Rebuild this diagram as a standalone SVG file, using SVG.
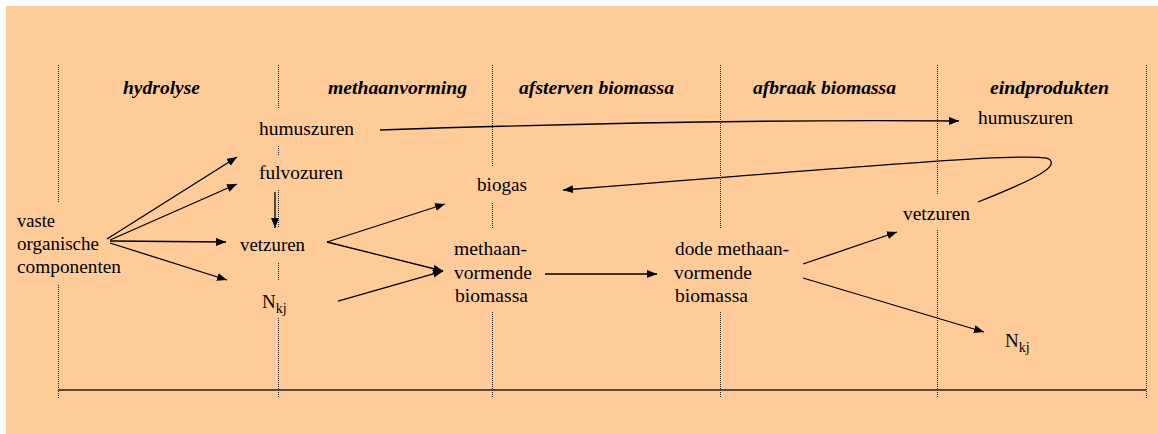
<svg xmlns="http://www.w3.org/2000/svg" width="1158" height="434" viewBox="0 0 1158 434">
  <style>
    .phase { font-size: 19px; font-weight: bold; font-style: italic; fill: #000; }
    .lbl { font-size: 19px; fill: #000; }
    .sub { font-size: 14px; }
    .divider { stroke: #222; stroke-width: 1; stroke-dasharray: 1 1; fill: none; }
    .flow { stroke: #000; stroke-width: 1.3; fill: none; marker-end: url(#head); }
  </style>
  <defs>
    <marker id="head" markerUnits="userSpaceOnUse" markerWidth="11" markerHeight="9" refX="10" refY="4" orient="auto">
      <path d="M0,0 L10,4 L0,8 z" fill="#000"/>
    </marker>
  </defs>

  <!-- page background -->
  <rect x="0" y="0" width="1158" height="434" fill="#fff"/>
  <rect x="6" y="6" width="1152" height="428" fill="#ffcc99"/>

  <!-- phase dividers and baseline -->
  <g id="grid">
    <path class="divider" d="M58.5,65 V202 M58.5,285 V398"/>
    <path class="divider" d="M278.5,65 V108 M278.5,146 V155 M278.5,190 V227 M278.5,263 V280 M278.5,318 V398"/>
    <path class="divider" d="M492.5,65 V167 M492.5,203 V228 M492.5,312 V398"/>
    <path class="divider" d="M720.5,65 V228 M720.5,312 V398"/>
    <path class="divider" d="M937.5,65 V195 M937.5,230 V398"/>
    <path class="divider" d="M1146.5,65 V398"/>
    <line x1="58" y1="390" x2="1146" y2="390" stroke="#5a4838" stroke-width="2"/>
  </g>

  <g font-family="Liberation Serif, DejaVu Serif, Times New Roman, serif">
  <!-- phase headings -->
  <g id="headings">
    <text class="phase" x="123" y="94" textLength="77" lengthAdjust="spacingAndGlyphs">hydrolyse</text>
    <text class="phase" x="328" y="94" textLength="139" lengthAdjust="spacingAndGlyphs">methaanvorming</text>
    <text class="phase" x="519" y="94" textLength="155" lengthAdjust="spacingAndGlyphs">afsterven biomassa</text>
    <text class="phase" x="753" y="94" textLength="143" lengthAdjust="spacingAndGlyphs">afbraak biomassa</text>
    <text class="phase" x="990" y="94" textLength="119" lengthAdjust="spacingAndGlyphs">eindprodukten</text>
  </g>

  <!-- nodes -->
  <g id="vaste-organische-componenten">
    <text class="lbl" x="17" y="227" textLength="38" lengthAdjust="spacingAndGlyphs">vaste</text>
    <text class="lbl" x="17" y="250" textLength="82" lengthAdjust="spacingAndGlyphs">organische</text>
    <text class="lbl" x="17" y="273" textLength="104" lengthAdjust="spacingAndGlyphs">componenten</text>
  </g>
  <g id="humuszuren-1">
    <text class="lbl" x="259" y="135" textLength="95" lengthAdjust="spacingAndGlyphs">humuszuren</text>
  </g>
  <g id="fulvozuren">
    <text class="lbl" x="259" y="179" textLength="84" lengthAdjust="spacingAndGlyphs">fulvozuren</text>
  </g>
  <g id="vetzuren-1">
    <text class="lbl" x="240" y="251" textLength="65" lengthAdjust="spacingAndGlyphs">vetzuren</text>
  </g>
  <g id="nkj-1">
    <text class="lbl" x="262" y="308">N<tspan class="sub" dy="5">kj</tspan></text>
  </g>
  <g id="biogas">
    <text class="lbl" x="477" y="191" textLength="50" lengthAdjust="spacingAndGlyphs">biogas</text>
  </g>
  <g id="methaanvormende-biomassa">
    <text class="lbl" x="454" y="255" textLength="73" lengthAdjust="spacingAndGlyphs">methaan-</text>
    <text class="lbl" x="454" y="279" textLength="78" lengthAdjust="spacingAndGlyphs">vormende</text>
    <text class="lbl" x="455" y="302" textLength="73" lengthAdjust="spacingAndGlyphs">biomassa</text>
  </g>
  <g id="dode-methaanvormende-biomassa">
    <text class="lbl" x="675" y="255" textLength="114" lengthAdjust="spacingAndGlyphs">dode methaan-</text>
    <text class="lbl" x="674" y="279" textLength="78" lengthAdjust="spacingAndGlyphs">vormende</text>
    <text class="lbl" x="675" y="302" textLength="73" lengthAdjust="spacingAndGlyphs">biomassa</text>
  </g>
  <g id="humuszuren-2">
    <text class="lbl" x="978" y="124" textLength="95" lengthAdjust="spacingAndGlyphs">humuszuren</text>
  </g>
  <g id="vetzuren-2">
    <text class="lbl" x="903" y="220" textLength="67" lengthAdjust="spacingAndGlyphs">vetzuren</text>
  </g>
  <g id="nkj-2">
    <text class="lbl" x="1005" y="347">N<tspan class="sub" dy="5">kj</tspan></text>
  </g>
  </g>

  <!-- connectors -->
  <g id="connectors">
    <line class="flow" x1="107" y1="239" x2="237" y2="157"/>
    <line class="flow" x1="110" y1="240" x2="237" y2="184"/>
    <line class="flow" x1="110" y1="241" x2="226" y2="242"/>
    <line class="flow" x1="110" y1="243" x2="227" y2="280"/>
    <line class="flow" x1="275" y1="192" x2="275" y2="228"/>
    <line class="flow" x1="327" y1="242" x2="445" y2="204"/>
    <line class="flow" x1="327" y1="242" x2="443" y2="271"/>
    <line class="flow" x1="338" y1="301" x2="443" y2="271"/>
    <line class="flow" x1="545" y1="274" x2="657" y2="274"/>
    <line class="flow" x1="803" y1="264" x2="897" y2="232"/>
    <line class="flow" x1="803" y1="278" x2="984" y2="332"/>
    <path class="flow" d="M380,130 Q700,119 959,121"/>
    <path class="flow" d="M978,202 C1020,185 1062,168 1049,159 C1036,152 900,163 563,190"/>
  </g>
</svg>
